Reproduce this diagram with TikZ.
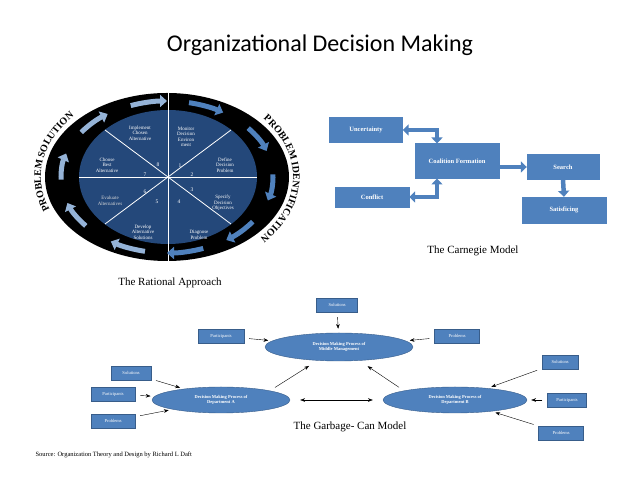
\documentclass[tikz,border=0pt]{standalone}
\usepackage{fontspec}
\setmainfont{Liberation Serif}
\newfontfamily\titlefont{Carlito}
\usetikzlibrary{arrows.meta,decorations.text,shapes.geometric}
\definecolor{boxblue}{HTML}{4F81BD}
\definecolor{boxedge}{HTML}{385D8A}
\definecolor{wheelblue}{HTML}{24487A}
\definecolor{paleblue}{HTML}{95B3D7}
\tikzset{
  seglabel/.style={text=white,font=\fontsize{5}{5.5}\selectfont,align=center},
  segnum/.style={text=white,font=\fontsize{5.5}{6}\selectfont},
  cbox/.style={fill=boxblue,draw=boxblue,text=white,font=\bfseries\fontsize{6.5}{7}\selectfont,minimum height=#1},
  blockarrow/.style={draw=boxblue,line width=4.5pt,{Triangle[length=6pt,width=11pt]}-{Triangle[length=6pt,width=11pt]}},
  onearrow/.style={draw=boxblue,line width=4.5pt,-{Triangle[length=6pt,width=11pt]}},
  gbox/.style={fill=boxblue,draw=boxedge,line width=.3pt,text=white,font=\fontsize{4.5}{5}\selectfont,minimum height=14pt,inner sep=2pt},
  proc/.style={ellipse,fill=boxblue,draw=boxedge,text=white,font=\bfseries\fontsize{4.5}{5}\selectfont,align=center,inner sep=0pt},
  ringarrow/.style={line width=5pt,-{Triangle[length=7pt,width=12pt]}},
  caption/.style={font=\fontsize{11}{12}\selectfont}
}
\begin{document}
\begin{tikzpicture}[x=1pt,y=1pt]
  \useasboundingbox (0,0) rectangle (638,479);

  % title
  \node[font=\titlefont\fontsize{24}{26}\selectfont] (title) at (320,434) {Organizational Decision Making};

  % rational approach wheel
  \fill[black] (167,302) ellipse [x radius=122, y radius=84];
  \fill[wheelblue] (168,302) ellipse [x radius=89, y radius=67];
  \draw[white,line width=.8pt] (168,386) -- (168,218);
  \draw[white,line width=.8pt] (79,302) -- (257,302);
  \draw[white,line width=.8pt] (105,349) -- (231,255);
  \draw[white,line width=.8pt] (105,255) -- (231,349);
  \foreach \a in {78,40,2,-36,-70}
    \draw[ringarrow,boxblue] (167,302) ++(\a:106 and 76) arc[start angle=\a, delta angle=-20, x radius=106, y radius=76];
  \foreach \a in {258,220,182,144,110}
    \draw[ringarrow,paleblue] (167,302) ++(\a:106 and 76) arc[start angle=\a, delta angle=-20, x radius=106, y radius=76];
  \path[decorate,decoration={text along path,text align=center,
        text={|\bfseries\fontsize{10}{10}\selectfont|PROBLEM SOLUTION}}]
    (167,302) ++(212:126 and 90) arc[start angle=212, end angle=128, x radius=126, y radius=90];
  \path[decorate,decoration={text along path,text align=center,
        text={|\bfseries\fontsize{10}{10}\selectfont|PROBLEM IDENTIFICATION}}]
    (167,302) ++(62:126 and 90) arc[start angle=62, end angle=-64, x radius=126, y radius=90];

  \node[seglabel] (implement) at (140,346) {Implement\\Chosen\\Alternative};
  \node[seglabel] (monitor) at (186,342) {Monitor\\Decision\\Environ\\ment};
  \node[seglabel] (define) at (225,314) {Define\\Decision\\Problem};
  \node[seglabel] (specify) at (223,276) {Specify\\Decision\\Objectives};
  \node[seglabel] (diagnose) at (199,244) {Diagnose\\Problem};
  \node[seglabel] (develop) at (143,247) {Develop\\Alternative\\Solutions};
  \node[seglabel,text=gray!30] (evaluate) at (110,278) {Evaluate\\Alternatives};
  \node[seglabel] (choose) at (107,314) {Choose\\Best\\Alternative};
  \node[segnum] (n8) at (158,314) {8};
  \node[segnum] (n1) at (180,313) {1};
  \node[segnum] (n7) at (145,304) {7};
  \node[segnum] (n2) at (192,304) {2};
  \node[segnum] (n6) at (145,287) {6};
  \node[segnum] (n3) at (192,289) {3};
  \node[segnum] (n5) at (157,277) {5};
  \node[segnum] (n4) at (179,277) {4};
  \node[caption] (rational) at (170,196) {The Rational Approach};

  % carnegie model
  \node[cbox=25pt,minimum width=73pt] (uncertainty) at (366,349) {Uncertainty};
  \node[cbox=35pt,minimum width=84pt] (coalition) at (457,318) {Coalition Formation};
  \node[cbox=20pt,minimum width=74pt] (conflict) at (372,282) {Conflict};
  \node[cbox=25pt,minimum width=72pt] (search) at (563,312) {Search};
  \node[cbox=26pt,minimum width=84pt] (satisficing) at (564,269) {Satisficing};
  \draw[blockarrow] (uncertainty.east) -- (437,349) -- (437,335.5);
  \draw[blockarrow] (conflict.east) -- (437,282) -- (437,300.5);
  \draw[onearrow] (coalition.east |- search) -- (search.west);
  \draw[onearrow] (search.south) -- (satisficing.north);
  \node[caption] (carnegie) at (473,228) {The Carnegie Model};

  % garbage-can model
  \node[proc,minimum width=148pt,minimum height=28pt] (middle) at (339,132) {Decision Making Process of\\Middle Management};
  \node[proc,minimum width=138pt,minimum height=26pt] (depA) at (221,79) {Decision Making Process of\\Department A};
  \node[proc,minimum width=144pt,minimum height=26pt] (depB) at (455,79) {Decision Making Process of\\Department B};
  \node[gbox,minimum width=41pt] (solM) at (337,174) {Solutions};
  \node[gbox,minimum width=46pt] (partM) at (221,143) {Participants};
  \node[gbox,minimum width=45pt] (probM) at (457,143) {Problems};
  \node[gbox,minimum width=40pt] (solA) at (131,106) {Solutions};
  \node[gbox,minimum width=44pt] (partA) at (113,85) {Participants};
  \node[gbox,minimum width=44pt] (probA) at (113,58) {Problems};
  \node[gbox,minimum width=36pt] (solB) at (560,117) {Solutions};
  \node[gbox,minimum width=39pt] (partB) at (567,79) {Participants};
  \node[gbox,minimum width=45pt] (probB) at (561,46) {Problems};
  \foreach \s/\t in {solM/middle,partM/middle,probM/middle,solA/depA,partA/depA,probA/depA,solB/depB,partB/depB,probB/depB}
    \draw[->,>=Stealth,shorten <=5pt,shorten >=4pt] (\s) -- (\t);
  \draw[->,>=Stealth,shorten <=6pt,shorten >=10pt] (depA.north east) -- (middle);
  \draw[->,>=Stealth,shorten <=6pt,shorten >=10pt] (depB.north west) -- (middle);
  \draw[<->,>=Stealth,shorten <=10pt,shorten >=10pt] (depA) -- (depB);
  \node[caption] (garbage) at (350,52) {The Garbage- Can Model};

  \node[anchor=west,font=\fontsize{6.5}{7}\selectfont] (source) at (32,24) {Source: Organization Theory and Design by Richard L Daft};
\end{tikzpicture}
\end{document}
